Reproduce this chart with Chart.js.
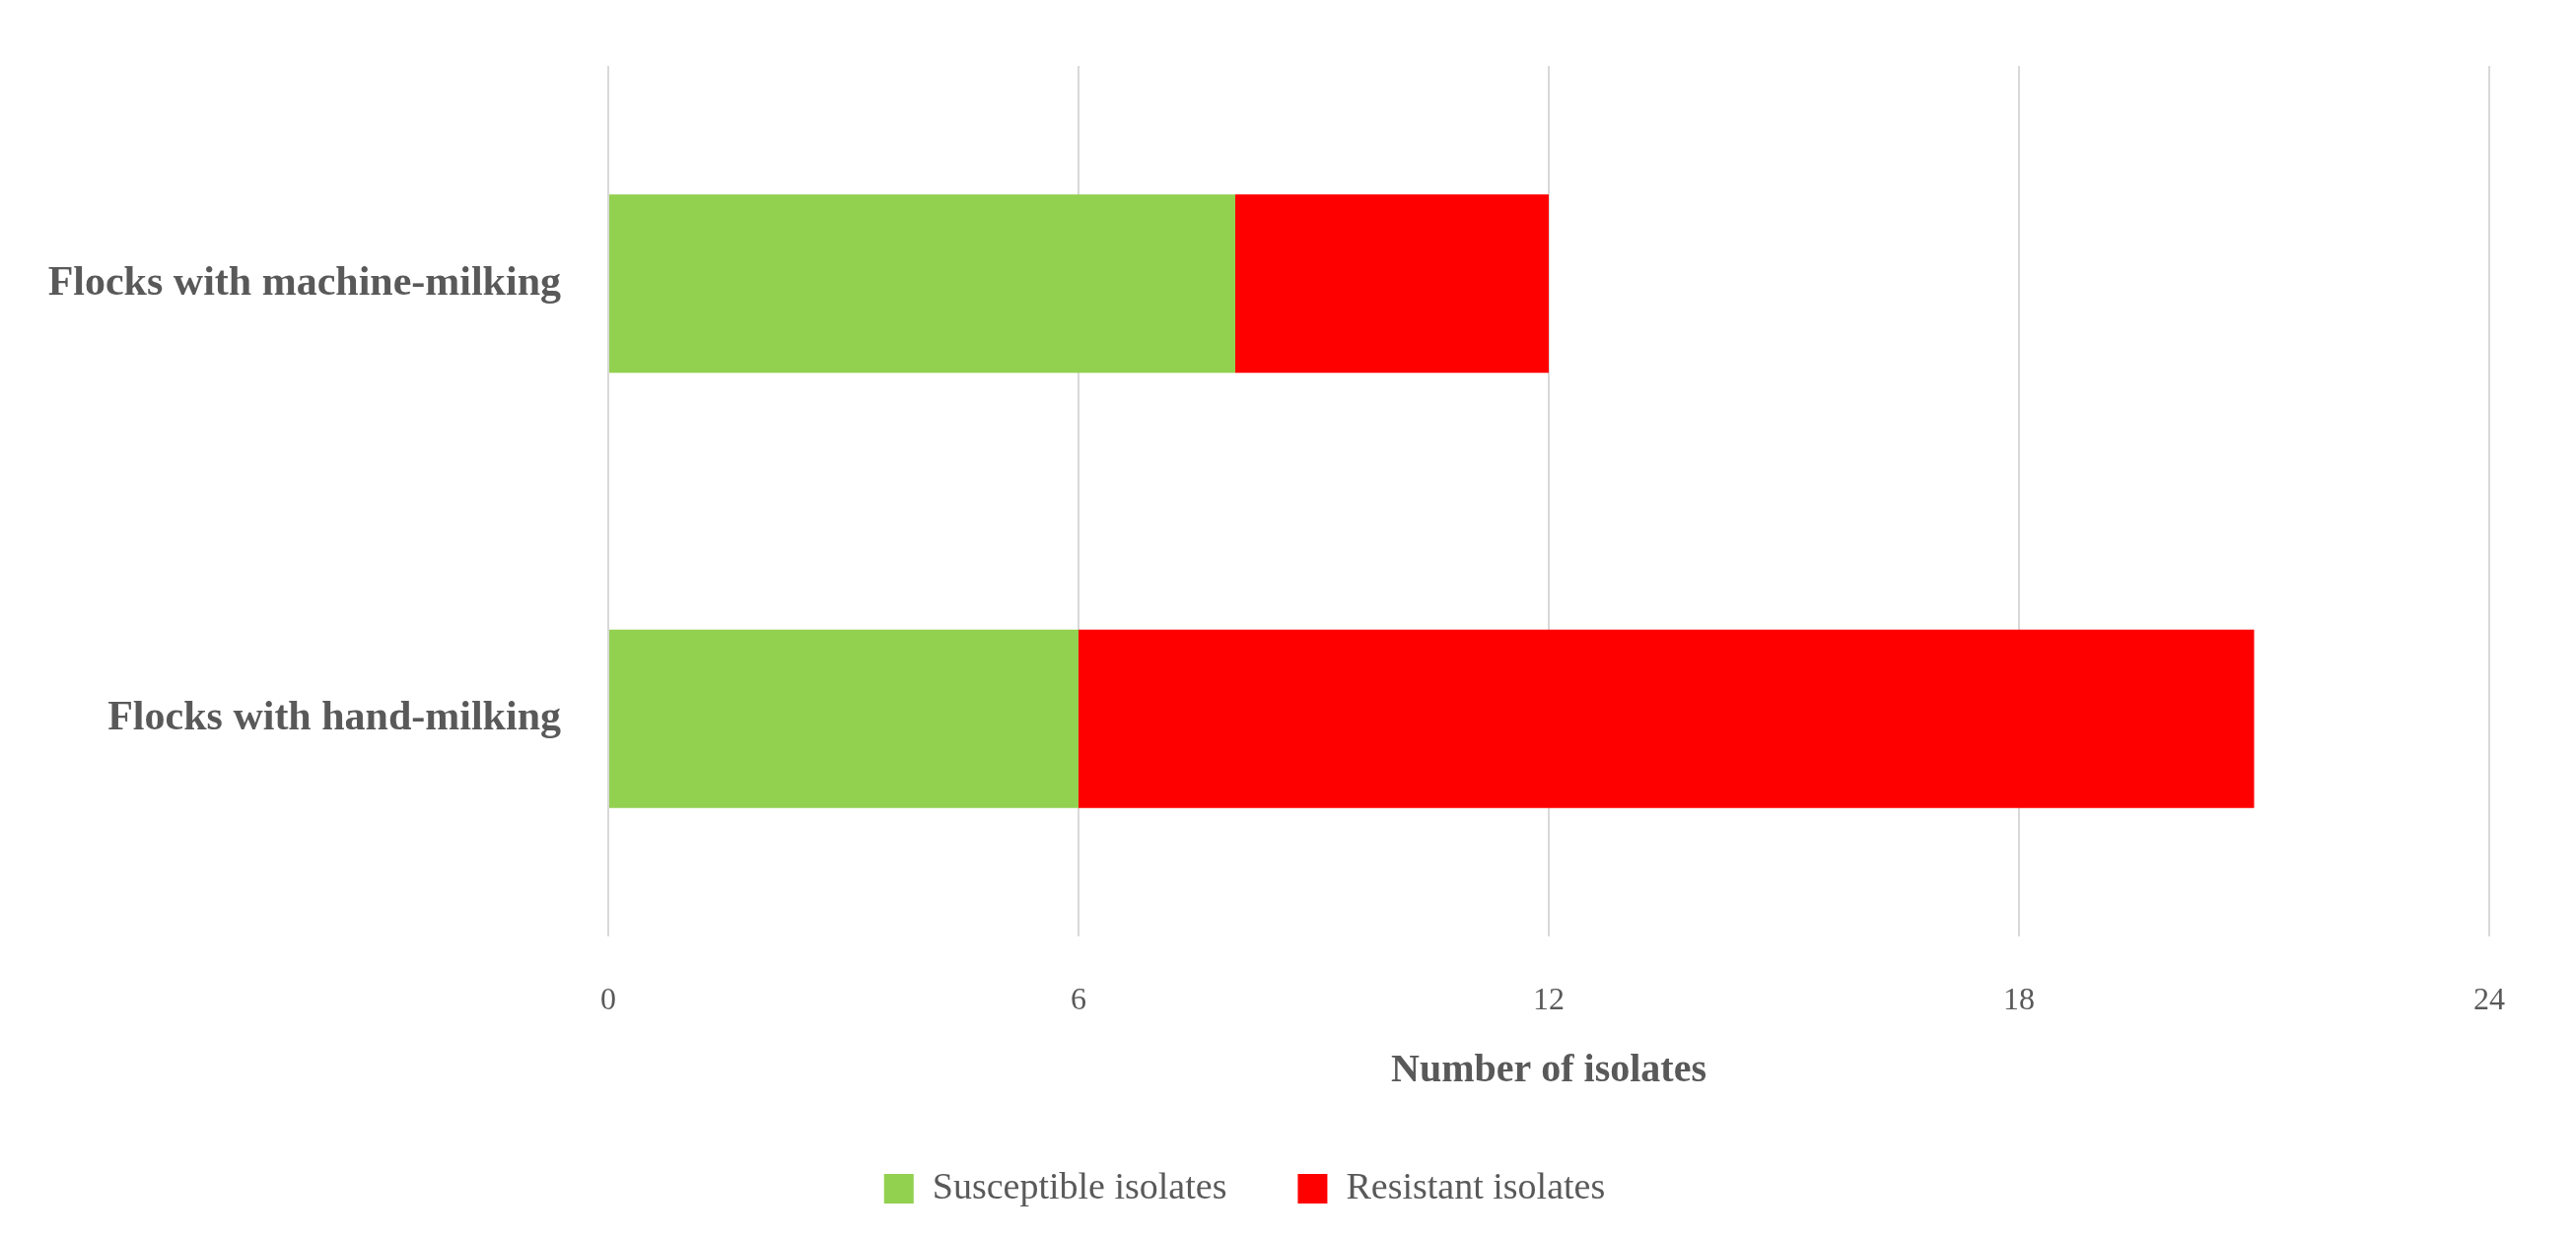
<!DOCTYPE html>
<html><head><meta charset="utf-8">
<script src="https://cdn.jsdelivr.net/npm/chart.js@4"></script>
<style>html,body{margin:0;background:#fff}#w{width:2613px;height:1257px}</style>
</head><body><div id="w"><canvas id="c"></canvas></div>
<script>
const categories = ["Flocks with machine-milking", "Flocks with hand-milking"];
const susceptible = [8, 6];
const resistant = [4, 15];
const xTicks = [0, 6, 12, 18, 24];
const font = "'Liberation Serif', 'DejaVu Serif', serif";
new Chart(document.getElementById('c'), {
  type: 'bar',
  data: {
    labels: categories,
    datasets: [
      {label: 'Susceptible isolates', data: susceptible, backgroundColor: '#92d050'},
      {label: 'Resistant isolates', data: resistant, backgroundColor: '#ff0000'}
    ]
  },
  options: {
    indexAxis: 'y', responsive: true, maintainAspectRatio: false, animation: false,
    datasets: {bar: {categoryPercentage: 1, barPercentage: 0.41}},
    layout: {padding: {top: 67, right: 88, left: 0, bottom: 22}},
    scales: {
      x: {
        stacked: true, min: 0, max: 24,
        afterBuildTicks: s => { s.ticks = xTicks.map(v => ({value: v})); },
        afterFit: s => { s.height = 165; },
        grid: {color: '#d9d9d9', lineWidth: 2, drawTicks: false},
        border: {display: false},
        ticks: {color: '#595959', font: {family: font, size: 32}, padding: 46},
        title: {display: true, text: 'Number of isolates', color: '#595959', font: {family: font, size: 40, weight: 'bold'}}
      },
      y: {
        stacked: true,
        afterFit: s => { s.width = 617; },
        grid: {display: false}, border: {display: false},
        ticks: {color: '#595959', font: {family: font, size: 42, weight: 'bold'}, padding: 40}
      }
    },
    plugins: {
      tooltip: {enabled: false},
      legend: {position: 'bottom', labels: {color: '#595959', font: {family: font, size: 38}, boxWidth: 30, boxHeight: 30, padding: 72}}
    }
  }
});
</script></body></html>
